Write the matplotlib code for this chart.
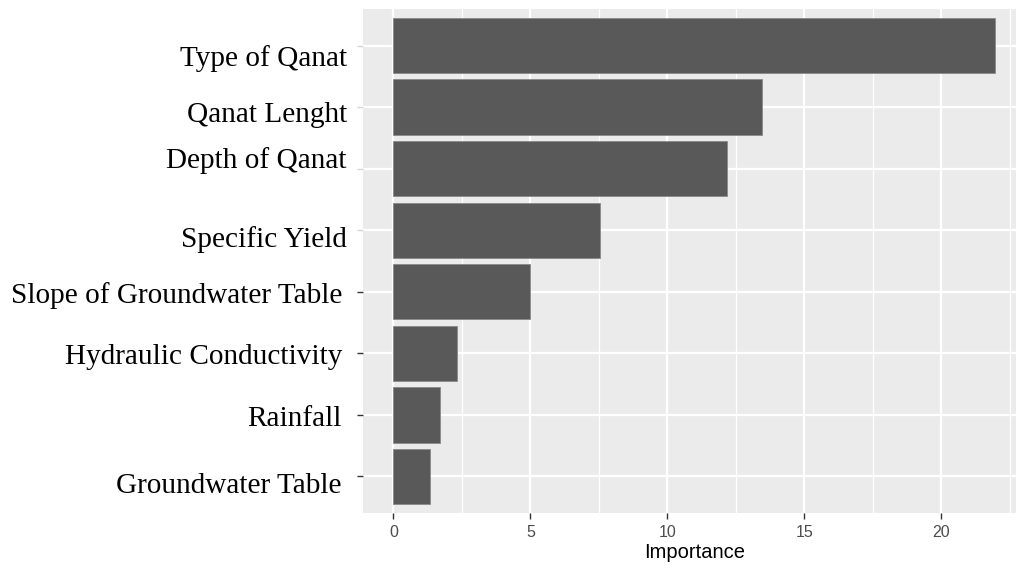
import matplotlib
matplotlib.use("Agg")
import matplotlib.pyplot as plt
from matplotlib.transforms import ScaledTranslation

# Data (bottom to top)
categories = ["Groundwater Table", "Rainfall", "Hydraulic Conductivity",
              "Slope of Groundwater Table", "Specific Yield", "Depth of Qanat",
              "Qanat Lenght", "Type of Qanat"]
importance = [1.34, 1.69, 2.31, 5.0, 7.55, 12.17, 13.45, 21.95]
x_ticks = [0, 5, 10, 15, 20]

# label baseline offsets below category centre (pixels) and right edges (pixels)
label_offsets = [16.5, 11.0, 10.6, 11.5, 17.0, -0.7, 15.0, 20.5]
label_right = [342, 342, 342, 342, 347, 347, 347, 347]

W, H, DPI = 1016, 573, 100
fig = plt.figure(figsize=(W / DPI, H / DPI), dpi=DPI)
px_left, px_right, px_top, px_bottom = 363.2, 1026.2, 8.6, 513.4
ax = fig.add_axes([px_left / W, 1 - px_bottom / H, (px_right - px_left) / W, (px_bottom - px_top) / H])
ax.set_facecolor("#EBEBEB")
for s in ax.spines.values():
    s.set_visible(False)

ypos = list(range(1, len(categories) + 1))
ax.barh(ypos, importance, height=0.9, color="#595959", edgecolor="#8a8a8a", linewidth=0.6, zorder=3)

ax.set_xlim(-1.1, 23.1)
ax.set_ylim(0.4, len(categories) + 0.6)
ax.set_xticks(x_ticks)
ax.set_xticks([2.5, 7.5, 12.5, 17.5, 22.5], minor=True)
# bottom four ticks dark (major), top four faint (minor)
ax.set_yticks(ypos[:4])
ax.set_yticks(ypos[4:], minor=True)
ax.set_yticklabels([""] * 4)
ax.set_yticklabels([""] * 4, minor=True)
ax.grid(True, which="major", color="white", linewidth=1.6, zorder=1)
ax.grid(True, which="minor", axis="x", color="white", linewidth=0.9, zorder=1)
ax.grid(True, which="minor", axis="y", color="white", linewidth=1.6, zorder=1)
ax.tick_params(axis="x", which="minor", length=0)
ax.tick_params(axis="x", which="major", length=4.5, width=1.0, color="#333333",
               labelsize=11.5, labelcolor="#4D4D4D", pad=4)
ax.tick_params(axis="y", which="major", length=4, width=1.0, color="#333333")
ax.tick_params(axis="y", which="minor", length=4, width=1.0, color="#d5d5d5")
for lab in ax.get_xticklabels():
    lab.set_fontfamily("Liberation Sans")

ax.set_xlabel("Importance", fontsize=14.5, fontfamily="Liberation Sans", color="black", labelpad=2)

ytr = ax.get_yaxis_transform()
for y, lab, off, rx in zip(ypos, categories, label_offsets, label_right):
    tr = ytr + ScaledTranslation(0, -off / DPI, fig.dpi_scale_trans)
    ax.text((rx - px_left) / (px_right - px_left), y, lab, transform=tr,
            ha="right", va="baseline", fontsize=21.1, fontfamily="Liberation Serif",
            color="black", clip_on=False)

fig.savefig("out.png", dpi=DPI)
